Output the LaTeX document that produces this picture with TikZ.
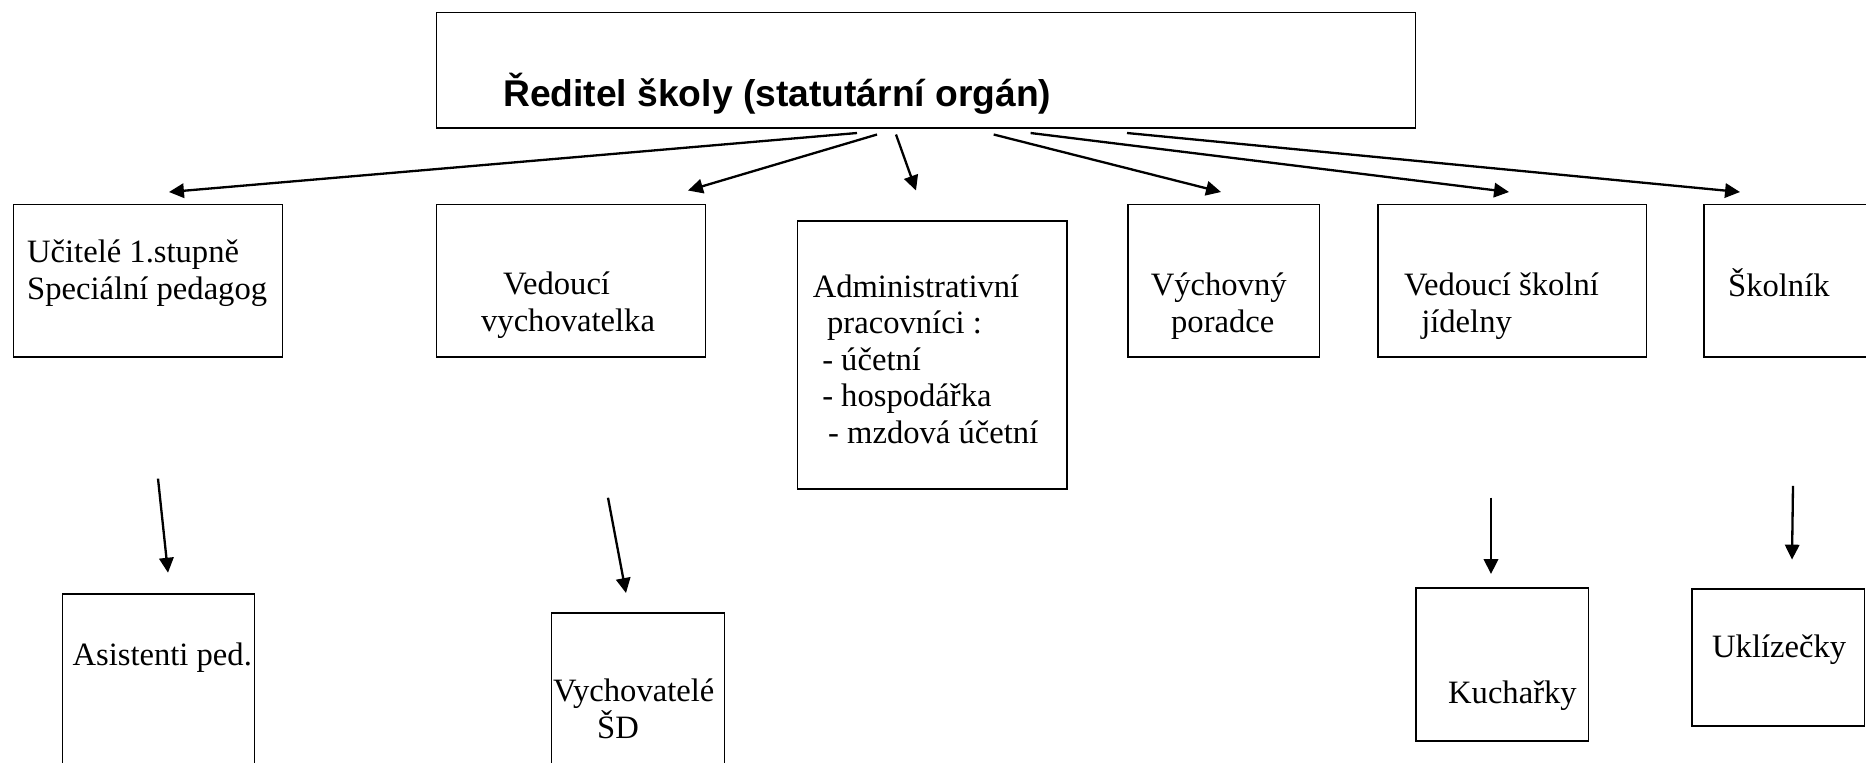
\documentclass[tikz,border=0pt]{standalone}
\usepackage{fontspec}
\setmainfont{Liberation Serif}
\newfontfamily\headfont{Liberation Sans}
\usetikzlibrary{arrows.meta,positioning}
\newcommand{\upx}{0.368pt}

\begin{document}
\begin{tikzpicture}[->,>={Triangle[length=5.5pt,width=5.3pt]},x=0.368pt,y=-0.368pt,line width=0.85pt]
\tikzstyle{box}=[draw,rectangle,anchor=north west,inner sep=0pt,line width=0.55pt]
\tikzstyle{txt}=[anchor=base west,inner sep=0pt,align=left,font=\fontsize{12}{13.4}\selectfont]

\useasboundingbox (0,0) rectangle (1866,762);
\clip (0,0) rectangle (1866,762);

% director
\node[box,minimum width=979*\upx,minimum height=115.5*\upx] (reditel) at (435.6,11.9) {};
\node[txt,font=\headfont\bfseries\fontsize{13.7}{16}\selectfont] (reditel-t) at (502,106) {Ředitel školy (statutární orgán)};

% first row (base = last line)
\node[box,minimum width=269*\upx,minimum height=152.5*\upx] (ucitele) at (13,203.5) {};
\node[txt] (ucitele-t) at (26,299) {Učitelé 1.stupně\\Speciální pedagog};
\node[box,minimum width=268.5*\upx,minimum height=152.5*\upx] (vedouci) at (436,203.5) {};
\node[txt] (vedouci-t) at (480,331) {\hspace*{8.1pt}Vedoucí\\vychovatelka};
\node[box,minimum width=269*\upx,minimum height=268*\upx] (admin) at (797,220) {};
\node[txt] (admin-t) at (811.6,443) {Administrativní\\\hspace*{5.3pt}pracovníci :\\\hspace*{3.5pt}- účetní\\\hspace*{3.5pt}- hospodářka\\\hspace*{5.7pt}- mzdová účetní};
\node[box,minimum width=191.6*\upx,minimum height=152.5*\upx] (poradce) at (1127,203.5) {};
\node[txt] (poradce-t) at (1149.6,332) {Výchovný\\\hspace*{7.5pt}poradce};
\node[box,minimum width=268.8*\upx,minimum height=152.5*\upx] (jidelna) at (1377,203.5) {};
\node[txt] (jidelna-t) at (1403,332) {Vedoucí školní\\\hspace*{6.3pt}jídelny};
\node[box,minimum width=250*\upx,minimum height=152.5*\upx] (skolnik) at (1703,203.5) {};
\node[txt] (skolnik-t) at (1727,296) {Školník};

% second row
\node[box,minimum width=191.5*\upx,minimum height=200*\upx] (asistenti) at (62,593) {};
\node[txt] (asistenti-t) at (71.4,665.5) {Asistenti ped.};
\node[box,minimum width=172.5*\upx,minimum height=180*\upx] (vychovatele) at (551,612) {};
\node[txt] (vychovatele-t) at (552,738) {Vychovatelé\\\hspace*{16.2pt}ŠD};
\node[box,minimum width=172.5*\upx,minimum height=153*\upx] (kucharky) at (1415,587) {};
\node[txt] (kucharky-t) at (1447,703) {Kuchařky};
\node[box,minimum width=172.6*\upx,minimum height=137*\upx] (uklizecky) at (1691,588) {};
\node[txt] (uklizecky-t) at (1711,657) {Uklízečky};

% arrow ends
\coordinate (a1) at (857,133);    \coordinate (b1) at (169,192);
\coordinate (a2) at (877,134.5);  \coordinate (b2) at (688,190.5);
\coordinate (a3) at (896,134.5);  \coordinate (b3) at (916,190.5);
\coordinate (a4) at (993.7,134.5);\coordinate (b4) at (1221,192);
\coordinate (a5) at (1030.6,133); \coordinate (b5) at (1509,192);
\coordinate (a6) at (1127,133);   \coordinate (b6) at (1740,192);
\coordinate (c1) at (158,478.6);  \coordinate (d1) at (168,572.7);
\coordinate (c2) at (608,497.7);  \coordinate (d2) at (626,593);
\coordinate (c3) at (1491,497.7); \coordinate (d3) at (1491,574);
\coordinate (c4) at (1793,485.8); \coordinate (d4) at (1792,559.6);

\path
(a1) edge (b1)
(a2) edge (b2)
(a3) edge (b3)
(a4) edge (b4)
(a5) edge (b5)
(a6) edge (b6)
(c1) edge (d1)
(c2) edge (d2)
(c3) edge (d3)
(c4) edge (d4);
\end{tikzpicture}
\end{document}
